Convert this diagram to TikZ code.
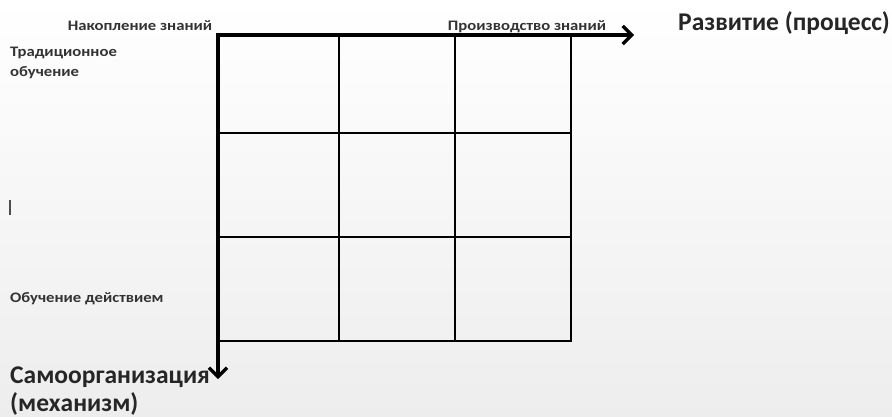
\documentclass[tikz,border=0pt]{standalone}
\usepackage{fontspec}
\setmainfont{Carlito}
\usetikzlibrary{arrows.meta}
\tikzset{
  axis/.style={line width=3.2pt, -{Straight Barb[length=9pt,width=18pt,line width=3.2pt]}},
  outer/.style={line width=2.6pt},
  inner/.style={line width=1.8pt},
  small/.style={font=\bfseries\fontsize{14.5}{16}\selectfont, text=black!80, inner sep=0pt},
  big/.style={font=\bfseries\fontsize{25.5}{30}\selectfont, text=black!85, inner sep=0pt},
}
\newcommand{\wide}[1]{\scalebox{1.15}[1]{#1}}
\begin{document}
\begin{tikzpicture}[x=1pt,y=-1pt]
\shade[top color=white, bottom color=black!7] (0,0) rectangle (892,416);
\useasboundingbox (0,0) rectangle (892,416);
% grid coordinates
\coordinate (o) at (218,35);
\coordinate (xe) at (634,35);
\coordinate (ye) at (218,379);
\coordinate (c1t) at (339,35); \coordinate (c1b) at (339,341);
\coordinate (c2t) at (455,35); \coordinate (c2b) at (455,341);
\coordinate (c3t) at (571,35); \coordinate (c3b) at (571,341);
\coordinate (r1l) at (218,133); \coordinate (r1r) at (571,133);
\coordinate (r2l) at (218,237); \coordinate (r2r) at (571,237);
\coordinate (r3l) at (218,341);
\draw[inner] (c1t) -- (c1b);
\draw[inner] (c2t) -- (c2b);
\draw[inner] (r1l) -- (r1r);
\draw[inner] (r2l) -- (r2r);
\draw[outer] (c3t) -- (c3b) -- (r3l);
\draw[axis] ([xshift=-1.6pt]o) -- (xe);
\draw[axis] ([yshift=-1.6pt]o) -- (ye);
% labels
\node[small, anchor=base] (nak) at (140,30) {\wide{Накопление знаний}};
\node[small, anchor=base] (proizv) at (527,30) {\wide{Производство знаний}};
\node[big, anchor=base west] (razv) at (678,30) {Развитие (процесс)};
\node[small, anchor=base west] (trad) at (10,56) {\wide{Традиционное}};
\node[small, anchor=base west] (obuch) at (10,76) {\wide{обучение}};
\node[small, anchor=base west] (deist) at (10,302) {\wide{Обучение действием}};
\node[big, anchor=base west] (samo) at (10,383) {Самоорганизация};
\node[big, anchor=base west] (mech) at (10,411) {(механизм)};
\draw[black!70, line width=2pt] (10,200) -- (10,215);
\end{tikzpicture}
\end{document}
